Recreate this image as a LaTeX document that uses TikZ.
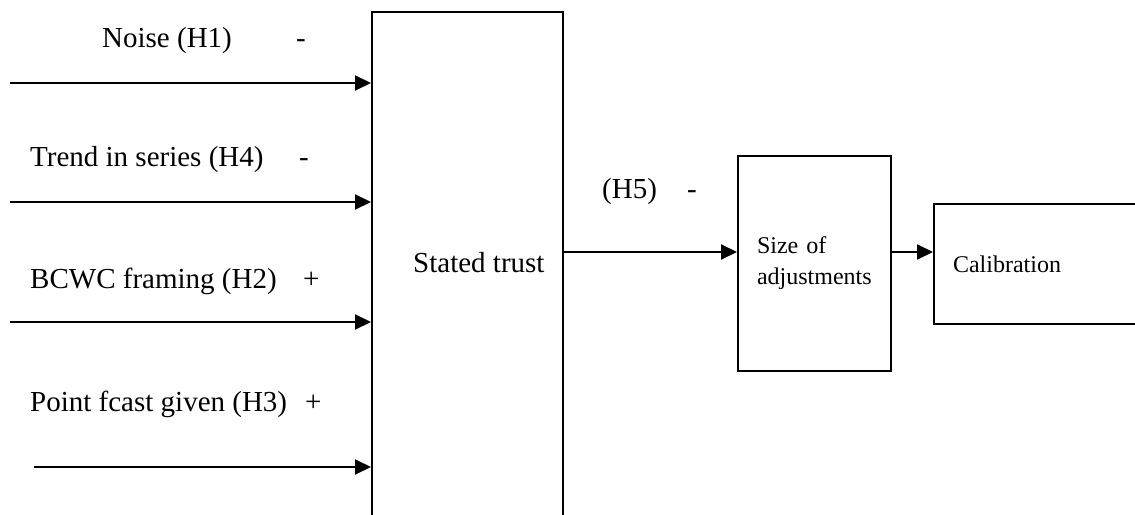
\documentclass[tikz,border=0pt]{standalone}
\usepackage{fontspec}
\setmainfont{Liberation Serif}
\usepackage{tikz}
\usetikzlibrary{arrows.meta,positioning}

\begin{document}
\begin{tikzpicture}[x=1pt, y=-1pt,
    box/.style={draw, line width=2pt, inner sep=0pt},
    arr/.style={line width=2pt, -{Triangle[length=16pt,width=15pt]}},
    lab/.style={anchor=base west, inner sep=0pt, font=\fontsize{29}{34}\selectfont},
    small/.style={font=\fontsize{24}{31}\selectfont}]
    \useasboundingbox (0,0) rectangle (1135,514);
    \clip (0,0) rectangle (1135,514);

    % Main box (runs off the bottom of the page)
    \node (trust) [box, anchor=north west, minimum width=191pt, minimum height=560pt] at (371,11) {};
    \node (trusttxt) [lab] at (413,272) {Stated trust};

    % Inputs
    \foreach \name/\y/\x in {noise/83/10, trend/202/10, bcwc/322/10, point/467/34} {
        \coordinate (\name-in) at (\x,\y);
        \draw[arr] (\name-in) -- (\name-in -| trust.west);
    }
    \node (noise)  [lab] at (102,47)  {Noise (H1)};
    \node (trend)  [lab] at (30,166)  {Trend in series (H4)};
    \node (bcwc)   [lab] at (30,288)  {BCWC framing (H2)};
    \node (point)  [lab] at (30,411)  {Point fcast given (H3)};
    \node (noise-s) [lab] at (296,47)  {-};
    \node (trend-s) [lab] at (299,166) {-};
    \node (bcwc-s)  [lab] at (303,288) {+};
    \node (point-s) [lab] at (305,411) {+};

    % Adjustments and calibration
    \node (adj) [box, small, anchor=north west, minimum width=153pt, minimum height=215pt,
                 inner xsep=19pt, text width=115pt, align=left] at (737,155) {Size of\\adjustments};
    \node (calib) [box, small, anchor=north west, minimum width=230pt, minimum height=120pt,
                   inner xsep=19pt, text width=192pt, align=left] at (933,203) {Calibration};

    \coordinate (mid) at (0,252);
    \draw[arr] (trust.east |- mid) -- (adj.west |- mid);
    \draw[arr] (adj.east |- mid) -- (calib.west |- mid);
    \node (h5)   [lab] at (602,198) {(H5)};
    \node (h5-s) [lab] at (687,198) {-};
\end{tikzpicture}
\end{document}
